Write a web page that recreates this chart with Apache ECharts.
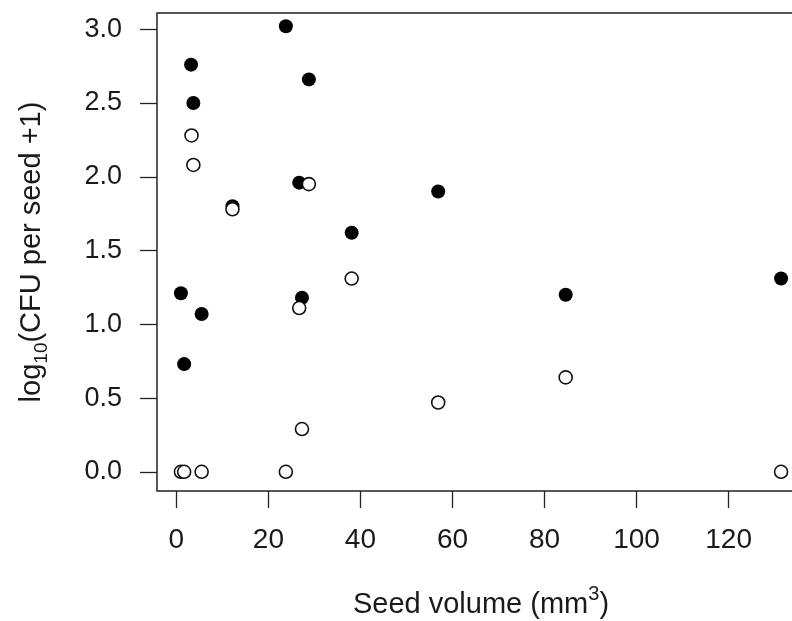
<!DOCTYPE html>
<html>
<head>
<meta charset="utf-8">
<script src="https://cdn.jsdelivr.net/npm/echarts@6/dist/echarts.min.js"></script>
<style>html,body{margin:0;padding:0;background:#fff;}#c{width:792px;height:621px;}</style>
</head>
<body>
<div id="c"></div>
<script>
// Seed volume (mm^3) for each seed sample
var seedVolume = [1.0, 1.7, 3.2, 3.7, 5.5, 12.2, 23.8, 26.7, 27.3, 28.8, 38.1, 56.9, 84.6, 131.4];
// filled circles
var filledCFU = [1.21, 0.73, 2.76, 2.50, 1.07, 1.80, 3.02, 1.96, 1.18, 2.66, 1.62, 1.90, 1.20, 1.31];
// open circles
var openVolume = [1.0, 1.7, 3.3, 3.7, 5.5, 12.2, 23.8, 26.7, 27.3, 28.8, 38.1, 56.9, 84.6, 131.4];
var openCFU = [0.0, 0.0, 2.28, 2.08, 0.0, 1.78, 0.0, 1.11, 0.29, 1.95, 1.31, 0.47, 0.64, 0.0];
var xTicks = [0, 20, 40, 60, 80, 100, 120];
var yTicks = [0, 0.5, 1.0, 1.5, 2.0, 2.5, 3.0];

function pairs(xs, ys) { return xs.map(function (x, i) { return [x, ys[i]]; }); }

var font = 'Liberation Sans, Arial, sans-serif';
var ink = '#1a1a1a';
var chart = echarts.init(document.getElementById('c'), null, { renderer: 'canvas' });
chart.setOption({
  animation: false,
  backgroundColor: '#ffffff',
  grid: { left: 157, right: -13, top: 13, bottom: 130, show: true, borderColor: '#222', borderWidth: 1.5,
          backgroundColor: 'transparent', outerBoundsMode: 'none', containLabel: false },
  xAxis: {
    type: 'value', min: -4.2, max: 136.6,
    axisLine: { show: false, onZero: false },
    splitLine: { show: false },
    axisTick: { show: true, length: 17, lineStyle: { color: '#222', width: 1.3 }, customValues: xTicks },
    axisLabel: { customValues: xTicks, color: ink, fontSize: 28, fontFamily: font, margin: 35 },
    name: '{t|Seed volume (mm}{s|3}{t|)}',
    nameLocation: 'middle', nameGap: 93,
    nameTextStyle: { rich: {
      t: { fontSize: 29, fontFamily: font, color: ink, verticalAlign: 'bottom', lineHeight: 35 },
      s: { fontSize: 20, fontFamily: font, color: ink, verticalAlign: 'top', lineHeight: 16 }
    } }
  },
  yAxis: {
    type: 'value', min: -0.13, max: 3.11,
    axisLine: { show: false, onZero: false },
    splitLine: { show: false },
    axisTick: { show: true, length: 17, lineStyle: { color: '#222', width: 1.3 }, customValues: yTicks },
    axisLabel: { customValues: yTicks, color: ink, fontSize: 27, fontFamily: font, margin: 35,
      formatter: function (v) { return v.toFixed(1); } },
    name: '{t|log}{s|10}{t|(CFU per seed +1)}',
    nameLocation: 'middle', nameRotate: 90, nameGap: 106,
    nameTextStyle: { rich: {
      t: { fontSize: 29, fontFamily: font, color: ink, verticalAlign: 'top', lineHeight: 34 },
      s: { fontSize: 19, fontFamily: font, color: ink, verticalAlign: 'bottom', lineHeight: 22 }
    } }
  },
  series: [
    { type: 'scatter', symbol: 'circle', symbolSize: 14, data: pairs(seedVolume, filledCFU),
      itemStyle: { color: '#000', opacity: 1 }, z: 2 },
    { type: 'scatter', symbol: 'circle', symbolSize: 13, data: pairs(openVolume, openCFU),
      itemStyle: { color: '#fff', borderColor: '#111', borderWidth: 1.6, opacity: 1 }, z: 3 }
  ]
});
</script>
</body>
</html>
